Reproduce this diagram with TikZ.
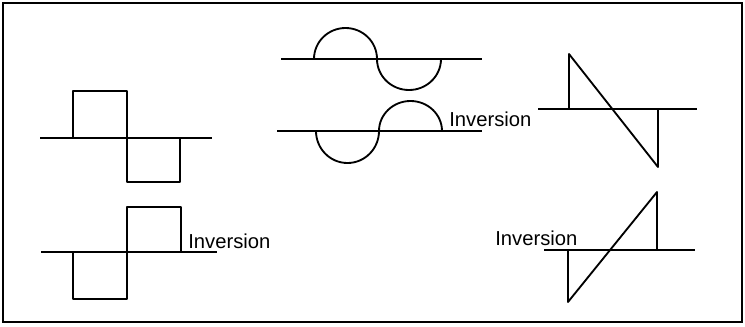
\documentclass[tikz,border=0pt]{standalone}
\usepackage{fontspec}
\setmainfont{Liberation Sans}
\usepackage{tikz}
\usetikzlibrary{positioning}

\tikzset{
  wave/.style={line width=1.05pt, line join=round},
  axisline/.style={line width=0.85pt},
  invlabel/.style={anchor=base west, inner sep=0pt, font=\fontsize{11.5}{13}\selectfont}
}

\begin{document}
\begin{tikzpicture}[x=0.02cm, y=0.02cm]
\useasboundingbox (0,0) rectangle (745,326);
\draw[line width=1.4pt] (3,4) rectangle (742,323);
% square wave and its inversion
\draw[axisline] (40,188) -- (212,188);
\draw[wave] (73,188) -- (73,235) -- (127,235) -- (127,144) -- (180,144) -- (180,188);
\draw[axisline] (41,74) -- (217,74);
\draw[wave] (73,74) -- (73,27) -- (127,27) -- (127,119) -- (181,119) -- (181,74);
\node[invlabel] (invsq) at (188,78) {Inversion};
% sine wave and its inversion
\draw[axisline] (281,267) -- (482,267);
\draw[wave] (314,267) arc[start angle=180, end angle=0, x radius=31.5, y radius=31]
  arc[start angle=180, end angle=360, x radius=32, y radius=31];
\draw[axisline] (277,195) -- (482,195);
\draw[wave] (316,195) arc[start angle=180, end angle=360, x radius=31.5, y radius=32]
  arc[start angle=180, end angle=0, x radius=31.5, y radius=30];
\node[invlabel] (invsine) at (449,200) {Inversion};
% sawtooth and its inversion
\draw[axisline] (538,217) -- (697,217);
\draw[wave] (569,217) -- (569,272) -- (658,159) -- (658,217);
\draw[axisline] (544,76) -- (695,76);
\draw[wave] (568,76) -- (568,24) -- (657,134) -- (657,76);
\node[invlabel] (invsaw) at (495,81) {Inversion};
\end{tikzpicture}
\end{document}
